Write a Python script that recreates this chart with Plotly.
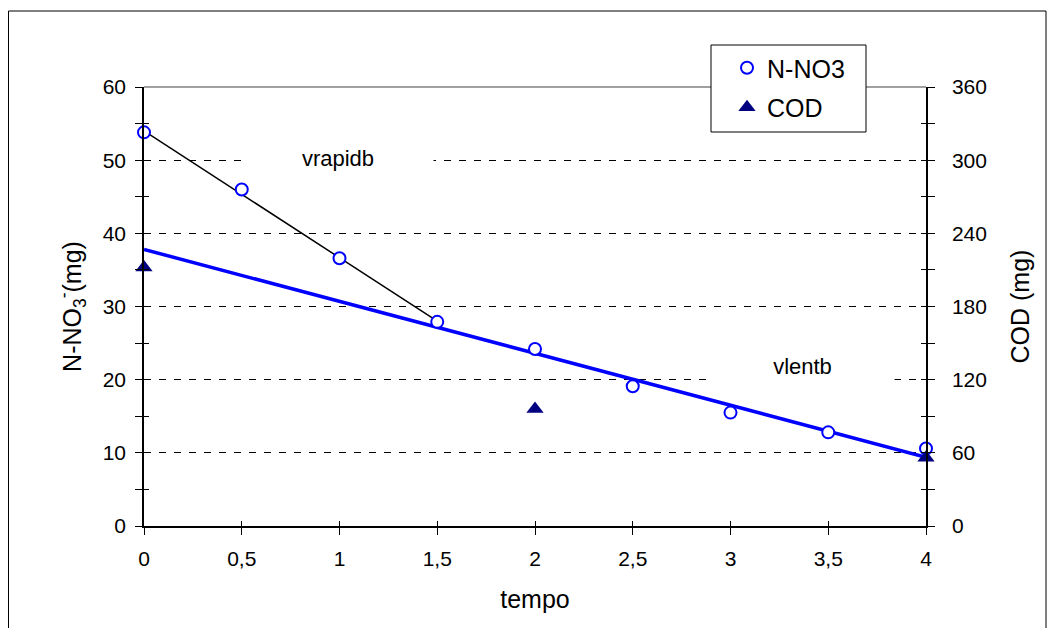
import plotly.graph_objects as go

# ---- data ----
tempo = [0, 0.5, 1, 1.5, 2, 2.5, 3, 3.5, 4]
n_no3 = [53.8, 46.0, 36.6, 27.9, 24.2, 19.1, 15.5, 12.8, 10.6]
cod_tempo = [0, 2, 4]
cod = [212, 96, 56]
rapid_x = [0, 1.5]
rapid_y = [54.0, 28.0]
slow_x = [0, 4]
slow_y = [37.8, 9.4]
label_rapid = ("vrapidb", 0.99, 50.3)
label_slow = ("vlentb", 3.37, 21.9)

FONT = "Liberation Sans, Arial, sans-serif"

# plot area in figure pixels
L, R, T, B = 136, 918, 79, 518
PW, PH = R - L, B - T


def px(xp):
    return (xp - L) / PW


def py(yp):
    return (B - yp) / PH


fig = go.Figure()

fig.add_trace(go.Scatter(x=rapid_x, y=rapid_y, mode="lines",
                         line=dict(color="black", width=1.5), cliponaxis=False,
                         showlegend=False, hoverinfo="skip"))
fig.add_trace(go.Scatter(x=slow_x, y=slow_y, mode="lines",
                         line=dict(color="#0000FF", width=3.5), cliponaxis=False,
                         showlegend=False, hoverinfo="skip"))
fig.add_trace(go.Scatter(x=tempo, y=n_no3, mode="markers", name="N-NO3",
                         cliponaxis=False, legendgroup="g1",
                         marker=dict(symbol="circle", size=12, color="white",
                                     line=dict(color="#0000FF", width=2))))
fig.add_trace(go.Scatter(x=cod_tempo, y=cod, mode="markers", name="COD",
                         yaxis="y2", cliponaxis=False, legendgroup="g2",
                         marker=dict(symbol="triangle-up", size=15, color="#000080",
                                     line=dict(width=0))))
# invisible traces to hold inner-tick overlay axes
fig.add_trace(go.Scatter(x=[0], y=[0], xaxis="x2", yaxis="y3", mode="markers",
                         marker=dict(opacity=0), showlegend=False, hoverinfo="skip"))
fig.add_trace(go.Scatter(x=[0], y=[0], xaxis="x2", yaxis="y4", mode="markers",
                         marker=dict(opacity=0), showlegend=False, hoverinfo="skip"))

axis_font = dict(family=FONT, size=21, color="black")
title_font = dict(family=FONT, size=25, color="black")

fig.update_layout(
    width=1055, height=628,
    margin=dict(l=L, r=1055 - R, t=T, b=628 - B, pad=0, autoexpand=False),
    paper_bgcolor="white", plot_bgcolor="white",
    separators=", ",
    font=dict(family=FONT, color="black"),
    xaxis=dict(range=[0, 4], dtick=0.5, tick0=0, showgrid=False, zeroline=False,
               showline=True, linecolor="black", linewidth=1.5,
               ticks="outside", ticklen=7, tickcolor="black", tickwidth=1,
               tickfont=axis_font, ticklabelstandoff=6, automargin=False,
               title=dict(text="tempo", font=title_font, standoff=22)),
    xaxis2=dict(range=[0, 4], dtick=0.5, tick0=0, overlaying="x", anchor="y",
                showgrid=False, zeroline=False, showline=False,
                ticks="inside", ticklen=5, tickcolor="black", tickwidth=1,
                showticklabels=False),
    yaxis=dict(range=[0, 60], dtick=10, tick0=0, zeroline=False,
               showgrid=True, gridcolor="black", gridwidth=1, griddash="7px,8px",
               showline=True, linecolor="black", linewidth=1.5,
               ticks="outside", ticklen=7, tickcolor="black", tickwidth=1,
               minor=dict(dtick=5, ticks="outside", ticklen=7, tickcolor="black",
                          showgrid=False),
               tickfont=axis_font, ticklabelstandoff=5, automargin=False,
               title=dict(text="N-NO<sub>3</sub><sup>-</sup>(mg)", font=title_font,
                          standoff=14)),
    yaxis2=dict(range=[0, 360], dtick=60, tick0=0, overlaying="y", side="right",
                anchor="x", zeroline=False, showgrid=False,
                showline=True, linecolor="black", linewidth=1.5,
                ticks="outside", ticklen=7, tickcolor="black", tickwidth=1,
                minor=dict(dtick=30, ticks="outside", ticklen=7, tickcolor="black",
                           showgrid=False),
                tickfont=axis_font, ticklabelstandoff=13, automargin=False,
                title=dict(text="COD (mg)", font=title_font, standoff=26)),
    yaxis3=dict(range=[0, 60], dtick=10, tick0=0, overlaying="y", anchor="x2",
                side="left", showgrid=False, zeroline=False, showline=False,
                ticks="inside", ticklen=5, tickcolor="black",
                minor=dict(dtick=5, ticks="inside", ticklen=5, tickcolor="black"),
                showticklabels=False),
    yaxis4=dict(range=[0, 360], dtick=60, tick0=0, overlaying="y", anchor="x2",
                side="right", showgrid=False, zeroline=False, showline=False,
                ticks="inside", ticklen=5, tickcolor="black",
                minor=dict(dtick=30, ticks="inside", ticklen=5, tickcolor="black"),
                showticklabels=False),
    legend=dict(x=px(719), y=py(37), xanchor="left", yanchor="top",
                bgcolor="rgba(0,0,0,0)", borderwidth=0,
                font=dict(family=FONT, size=25, color="black"),
                traceorder="grouped", tracegroupgap=4, itemsizing="trace"),
    showlegend=True,
)

shapes = [
    # outer chart border
    dict(type="rect", xref="paper", yref="paper",
         x0=px(0.5), x1=px(1038), y0=py(660), y1=py(3),
         line=dict(color="black", width=1), fillcolor="rgba(0,0,0,0)", layer="below"),
    # top plot-area border (gray)
    dict(type="line", xref="paper", yref="paper", x0=0, x1=1, y0=1, y1=1,
         line=dict(color="#808080", width=1.5), layer="above"),
    # legend box
    dict(type="rect", xref="paper", yref="paper",
         x0=px(703), x1=px(858), y0=py(124), y1=py(37),
         line=dict(color="black", width=1), fillcolor="white", layer="above"),
]
fig.update_layout(shapes=shapes)

for text, ax, ay, w in [(label_rapid[0], label_rapid[1], label_rapid[2], 190),
                        (label_slow[0], label_slow[1], label_slow[2], 183)]:
    fig.add_annotation(x=ax, y=ay, xref="x", yref="y", text=text, showarrow=False,
                       font=dict(family=FONT, size=22, color="black"),
                       bgcolor="white", width=w, height=38, borderpad=0)

fig.write_html("out.html")
